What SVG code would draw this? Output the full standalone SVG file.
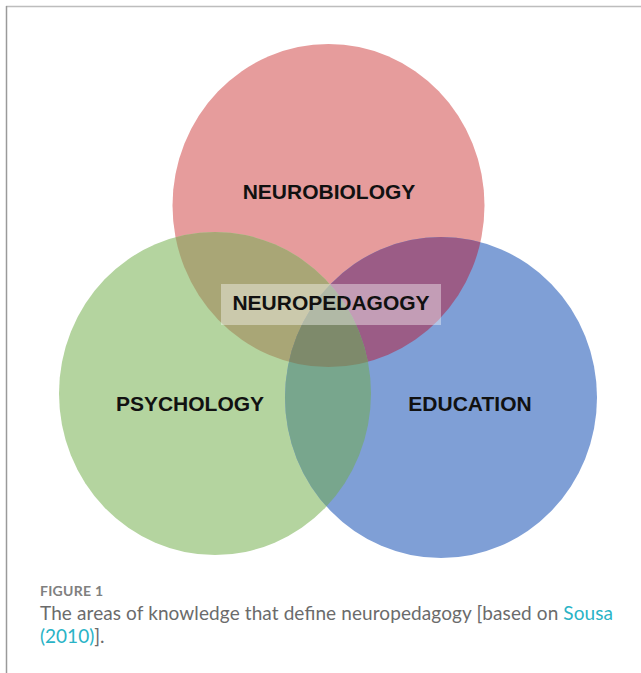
<svg xmlns="http://www.w3.org/2000/svg" width="641" height="673" viewBox="0 0 641 673">
  <style>
    .label { font-family: "Liberation Sans", Arial, sans-serif; font-weight: bold; font-size: 21px; fill: #111; text-anchor: middle; }
    .cap { font-family: "Lato", "Open Sans", sans-serif; }
  </style>
  <defs>
    <clipPath id="clipGreen"><ellipse cx="215" cy="393.5" rx="156" ry="161.5"/></clipPath>
    <clipPath id="clipBlue"><ellipse cx="441" cy="397.5" rx="156" ry="160.5"/></clipPath>
  </defs>
  <rect width="641" height="673" fill="#fff"/>
  <!-- frame edges -->
  <line x1="6" y1="6.5" x2="641" y2="6.5" stroke="#bdbdbd" stroke-width="1.5"/>
  <line x1="6.5" y1="6" x2="6.5" y2="673" stroke="#9a9a9a" stroke-width="1.5"/>

  <g id="neurobiology">
    <ellipse cx="328.5" cy="205.5" rx="156" ry="161.5" fill="#E69C9C"/>
  </g>
  <g id="psychology">
    <ellipse cx="215" cy="393.5" rx="156" ry="161.5" fill="#B4D49F"/>
  </g>
  <g id="education">
    <ellipse cx="441" cy="397.5" rx="156" ry="160.5" fill="#7F9FD6"/>
  </g>

  <!-- overlap regions -->
  <g id="overlaps">
    <ellipse cx="328.5" cy="205.5" rx="156" ry="161.5" fill="#A9A676" clip-path="url(#clipGreen)"/>
    <ellipse cx="328.5" cy="205.5" rx="156" ry="161.5" fill="#9B5C86" clip-path="url(#clipBlue)"/>
    <ellipse cx="215" cy="393.5" rx="156" ry="161.5" fill="#78A68D" clip-path="url(#clipBlue)"/>
    <g clip-path="url(#clipBlue)">
      <ellipse cx="328.5" cy="205.5" rx="156" ry="161.5" fill="#7E8A6B" clip-path="url(#clipGreen)"/>
    </g>
  </g>

  <g id="neuropedagogy">
    <rect x="221" y="284" width="220" height="41" fill="#fff" fill-opacity="0.4"/>
    <text class="label" x="331" y="310">NEUROPEDAGOGY</text>
  </g>
  <text class="label" x="329" y="199">NEUROBIOLOGY</text>
  <text class="label" x="190" y="411">PSYCHOLOGY</text>
  <text class="label" x="470" y="411">EDUCATION</text>

  <g id="caption" class="cap">
    <text x="40" y="596" font-size="14" font-weight="bold" fill="#808080" textLength="63">FIGURE 1</text>
    <text x="40" y="620" font-size="19" fill="#6b6b6b" textLength="573">The areas of knowledge that define neuropedagogy [based on <tspan fill="#2AB3C6">Sousa</tspan></text>
    <text x="40" y="643" font-size="19" fill="#6b6b6b"><tspan fill="#2AB3C6">(2010)</tspan>].</text>
  </g>
</svg>
